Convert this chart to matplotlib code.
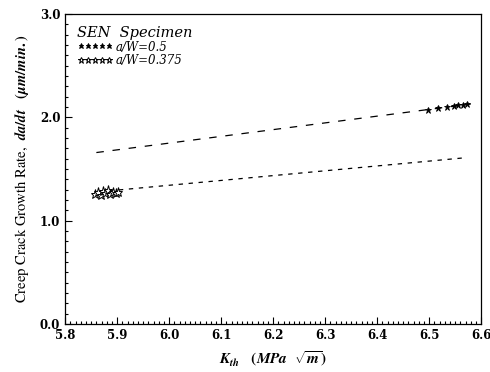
import matplotlib
matplotlib.use("Agg")
import matplotlib.pyplot as plt
from matplotlib.ticker import MultipleLocator

plt.rcParams["font.family"] = ["DejaVu Serif"]
plt.rcParams["mathtext.fontset"] = "custom"
plt.rcParams["mathtext.rm"] = "STIXGeneral:bold"
plt.rcParams["mathtext.it"] = "STIXGeneral:italic:bold"

# --- データ ---
k_05 = [6.498, 6.517, 6.535, 6.548, 6.556, 6.565, 6.573]
rate_05 = [2.07, 2.09, 2.10, 2.11, 2.12, 2.12, 2.13]

k_0375 = [5.858, 5.863, 5.868, 5.872, 5.877, 5.882, 5.887, 5.892, 5.897, 5.902]
rate_0375 = [1.26, 1.28, 1.25, 1.29, 1.27, 1.30, 1.26, 1.28, 1.27, 1.28]

fit_k_05 = [5.86, 6.58]
fit_rate_05 = [1.66, 2.13]
fit_k_0375 = [5.865, 6.57]
fit_rate_0375 = [1.28, 1.61]

fig = plt.figure(figsize=(4.9, 3.72), dpi=100)
ax = fig.add_axes([0.133, 0.129, 0.849, 0.833])

ax.plot(fit_k_05, fit_rate_05, color="black", lw=0.9, dashes=(6, 7))
ax.plot(fit_k_0375, fit_rate_0375, color="black", lw=0.9, dashes=(3.5, 4.5))

ax.plot(k_05, rate_05, ls="none", marker="*", ms=5, color="black",
        mec="black", mew=0.6, label="a/W=0.5")
ax.plot(k_0375, rate_0375, ls="none", marker="*", ms=6.5, mfc="white",
        mec="black", mew=0.7, label="a/W=0.375")

ax.set_xlim(5.8, 6.6)
ax.set_ylim(0.0, 3.0)
ax.xaxis.set_major_locator(MultipleLocator(0.1))
ax.xaxis.set_minor_locator(MultipleLocator(0.01))
ax.yaxis.set_major_locator(MultipleLocator(1.0))
ax.yaxis.set_minor_locator(MultipleLocator(0.1))
ax.xaxis.set_major_formatter(plt.FormatStrFormatter("%.1f"))
ax.yaxis.set_major_formatter(plt.FormatStrFormatter("%.1f"))
ax.tick_params(which="both", direction="in", top=False, right=False,
               labelsize=8.5, width=0.8)
ax.tick_params(which="major", length=5)
ax.tick_params(which="minor", length=2.5)
for lab in ax.get_xticklabels() + ax.get_yticklabels():
    lab.set_fontweight("bold")
for s in ax.spines.values():
    s.set_linewidth(0.9)

ax.set_xlabel(r"$K_{th}\ \ \ (MPa\ \ \sqrt{m})$", fontsize=11, labelpad=5)
ax.set_ylabel(r"Creep Crack Growth Rate,  $da/dt\ \ \ (\mu m/ min.)$",
              fontsize=10.5, family="STIXGeneral", labelpad=6)

leg = ax.legend(loc="upper left", frameon=False, numpoints=5, handlelength=3.0,
                handletextpad=0.3, borderpad=0.5, labelspacing=0.05,
                markerscale=0.75,
                title="SEN  Specimen", prop={"family": "DejaVu Serif",
                                             "style": "italic", "size": 8.5})
leg.get_title().set_fontstyle("italic")
leg.get_title().set_fontsize(10.5)
leg._legend_box.align = "left"

fig.savefig("out.png", dpi=100)
